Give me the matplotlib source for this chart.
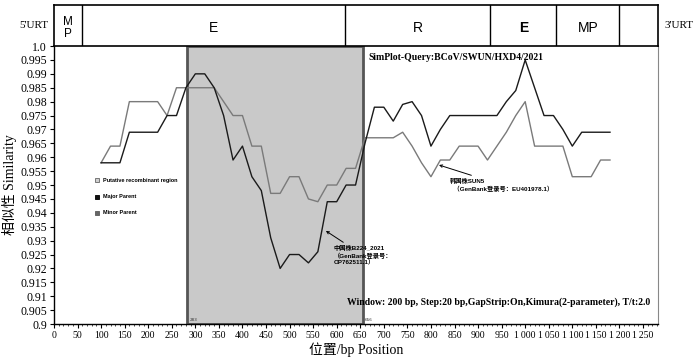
import numpy as np
import matplotlib.pyplot as plt
from matplotlib.patches import Rectangle

# posições (bp) das janelas
posicoes = np.arange(100, 1181, 20)

# Major Parent (linha preta)
major = [0.958, 0.958, 0.958, 0.969, 0.969, 0.969, 0.969, 0.975, 0.975, 0.985,
         0.990, 0.990, 0.985, 0.975, 0.959, 0.964, 0.953, 0.948, 0.931, 0.920,
         0.925, 0.925, 0.922, 0.926, 0.944, 0.944, 0.950, 0.950, 0.965, 0.978,
         0.978, 0.973, 0.979, 0.980, 0.975, 0.964, 0.970, 0.975, 0.975, 0.975,
         0.975, 0.975, 0.975, 0.980, 0.984, 0.995, 0.985, 0.975, 0.975, 0.970,
         0.964, 0.969, 0.969, 0.969, 0.969]

# Minor Parent (linha cinza)
minor = [0.958, 0.964, 0.964, 0.980, 0.980, 0.980, 0.980, 0.975, 0.985, 0.985,
         0.985, 0.985, 0.985, 0.980, 0.975, 0.975, 0.964, 0.964, 0.947, 0.947,
         0.953, 0.953, 0.945, 0.944, 0.950, 0.950, 0.956, 0.956, 0.967, 0.967,
         0.967, 0.967, 0.969, 0.964, 0.958, 0.953, 0.959, 0.959, 0.964, 0.964,
         0.964, 0.959, 0.964, 0.969, 0.975, 0.980, 0.964, 0.964, 0.964, 0.964,
         0.953, 0.953, 0.953, 0.959, 0.959]

# região recombinante
rec_ini, rec_fim = 283, 656

# genoma (caixa de cima)
seg_bordas = [0, 59, 618, 926, 1066, 1200, 1282]
seg_nomes = ["M\nP", "E", "R", "E", "MP", ""]

yticks = np.arange(0.9, 1.0001, 0.005)
ylabels = ["0.9"] + ["{:.3f}".format(v).rstrip("0") for v in yticks[1:-1]] + ["1.0"]
xticks = np.arange(0, 1251, 50)
xlabels = ["{:,}".format(v).replace(",", "\u2009") for v in xticks]

serif = ["Liberation Serif", "DejaVu Serif", "Noto Sans CJK SC"]
sans = ["Liberation Sans", "Noto Sans CJK SC"]

fig = plt.figure(figsize=(7, 3.57), dpi=100)
ax = fig.add_axes([0.0771, 0.0924, 0.863, 0.7786])
axb = fig.add_axes([0.0771, 0.8710, 0.863, 0.1150])

XMAX = 1282
ax.set_xlim(0, XMAX)
ax.set_ylim(0.9, 1.0)

ax.add_patch(Rectangle((rec_ini, 0.9), rec_fim - rec_ini, 0.1, facecolor="#c9c9c9",
                       edgecolor="#555555", linewidth=2, zorder=1))
ax.plot(posicoes, minor, color="#7a7a7a", lw=1.0, zorder=3)
ax.plot(posicoes, major, color="#1a1a1a", lw=1.0, zorder=4)

ax.set_xticks(xticks)
ax.set_xticklabels(xlabels, family=serif, fontsize=7)
ax.set_yticks(yticks)
ax.set_yticklabels(ylabels, family=serif, fontsize=8.5)
ax.set_xticks(np.arange(0, 1281, 10), minor=True)
ax.tick_params(axis="both", which="major", length=3, width=0.8, pad=2)
ax.tick_params(axis="x", which="minor", length=1.5, width=0.5)
for s in ["left", "bottom"]:
    ax.spines[s].set_linewidth(1.0)
ax.spines["right"].set_color("#888888")
ax.spines["top"].set_visible(False)

ax.set_ylabel("相似性 Similarity", family=serif, fontsize=10, labelpad=2)
ax.set_xlabel("位置/bp Position", family=serif, fontsize=10, labelpad=2)

# textos
ax.text(667, 0.996, "SimPlot-Query:BCoV/SWUN/HXD4/2021", family=serif,
        fontweight="bold", fontsize=7, va="center", zorder=5)
ax.text(622, 0.9079, "Window: 200 bp, Step:20 bp,GapStrip:On,Kimura(2-parameter), T/t:2.0",
        family=serif, fontweight="bold", fontsize=7, va="center", zorder=5)
ax.text(rec_ini + 4, 0.9015, str(rec_ini), fontsize=3, color="#333333", va="center")
ax.text(rec_fim + 4, 0.9015, str(rec_fim), fontsize=3, color="#333333", va="center")

# legenda
leg = [("Putative recombinant region", "#cfcfcf", "#777777", 0.9518),
       ("Major Parent", "#111111", "#111111", 0.9457),
       ("Minor Parent", "#666666", "#666666", 0.9400)]
for nome, fc, ec, yy in leg:
    ax.plot([91], [yy], marker="s", markersize=3.5, markerfacecolor=fc,
            markeredgecolor=ec, markeredgewidth=0.7, linestyle="none")
    ax.text(104, yy, nome, family=sans, fontweight="bold", fontsize=4, va="center")

# anotações das cepas
ax.annotate("中国株B224_2021\n（GenBank登录号：\nOP762511.1）", xy=(577, 0.9335),
            xytext=(594, 0.9284), fontsize=4.5, family=sans, fontweight="bold",
            va="top", ha="left", linespacing=1.2,
            arrowprops=dict(arrowstyle="->", color="black", lw=0.7, shrinkA=0, shrinkB=0))
ax.annotate("韩国株SUN5\n  （GenBank登录号：EU401978.1）", xy=(817, 0.9572),
            xytext=(840, 0.9525), fontsize=4.5, family=sans, fontweight="bold",
            va="top", ha="left", linespacing=1.2,
            arrowprops=dict(arrowstyle="->", color="black", lw=0.7, shrinkA=0, shrinkB=0))

# caixa do genoma
axb.set_xlim(0, XMAX)
axb.set_ylim(0, 1)
axb.set_xticks([])
axb.set_yticks([])
for s in axb.spines.values():
    s.set_linewidth(1.2)
for b in seg_bordas[1:-1]:
    axb.axvline(b, color="black", lw=1.0)
for i, nome in enumerate(seg_nomes):
    cx = (seg_bordas[i] + seg_bordas[i + 1]) / 2
    if nome == "M\nP":
        axb.text(cx, 0.45, nome, ha="center", va="center", family=sans,
                 fontsize=8.5, linespacing=1.0)
    elif nome == "E" and i == 3:
        axb.text(cx, 0.45, nome, ha="center", va="center", family=sans,
                 fontsize=10, fontweight="bold")
    else:
        axb.text(cx, 0.45, nome, ha="center", va="center", family=sans, fontsize=10)
axb.text(-0.01, 0.5, "5'URT", transform=axb.transAxes, ha="right", va="center",
         family=serif, fontsize=8)
axb.text(1.01, 0.5, "3'URT", transform=axb.transAxes, ha="left", va="center",
         family=serif, fontsize=8)

fig.savefig("out.png", dpi=100)
